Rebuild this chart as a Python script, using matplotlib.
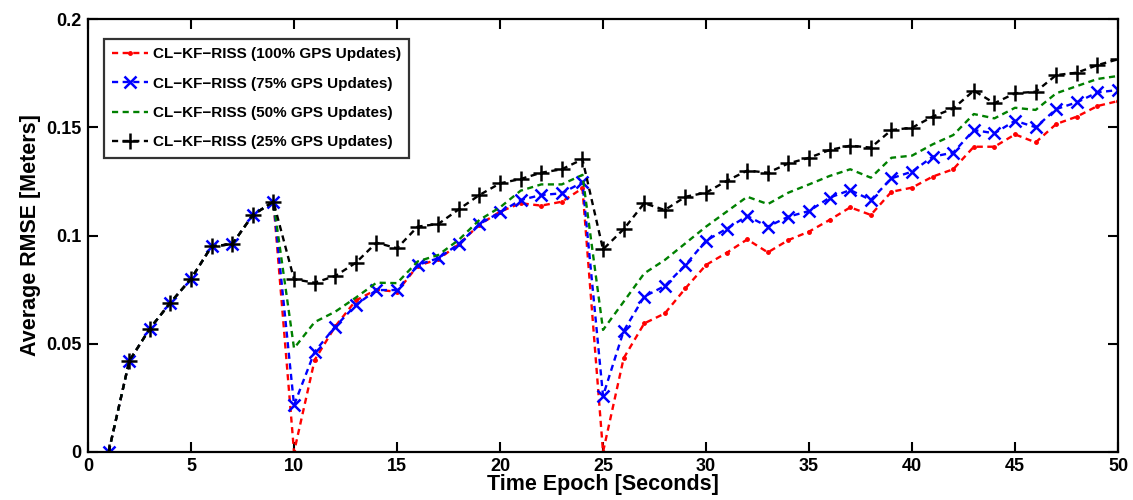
import matplotlib
matplotlib.use('Agg')
import matplotlib.pyplot as plt

plt.rcParams['font.family'] = ['Liberation Sans', 'DejaVu Sans']
plt.rcParams['font.weight'] = 'bold'

epochs = list(range(1, 51))

# первые 9 эпох одинаковы для всех вариантов
common = [0.0, 0.042, 0.057, 0.069, 0.080, 0.095, 0.096, 0.1095, 0.1156]

rmse_100 = common + [
    0.0, 0.0425, 0.058, 0.070, 0.075, 0.074, 0.086, 0.089, 0.096, 0.105,
    0.111, 0.1149, 0.1138, 0.1156, 0.1218,
    0.0, 0.0433, 0.0594, 0.064, 0.0756, 0.0864, 0.092, 0.0982, 0.0922, 0.0979,
    0.1018, 0.1072, 0.113, 0.1095, 0.1202, 0.1221, 0.1272, 0.1306, 0.141, 0.141,
    0.1467, 0.143, 0.1515, 0.1549, 0.1598, 0.1621]

rmse_75 = common + [
    0.0217, 0.0463, 0.0579, 0.0679, 0.0748, 0.0748, 0.0864, 0.0895, 0.0961, 0.1053,
    0.1107, 0.1164, 0.1187, 0.1195, 0.1246,
    0.0259, 0.0559, 0.0718, 0.0767, 0.0864, 0.0976, 0.1031, 0.109, 0.1041, 0.1087,
    0.1113, 0.1175, 0.121, 0.1164, 0.1264, 0.1295, 0.1364, 0.1383, 0.1487, 0.1472,
    0.153, 0.150, 0.1584, 0.1615, 0.1661, 0.1672]

rmse_50 = common + [
    0.0479, 0.060, 0.0648, 0.0713, 0.0782, 0.078, 0.088, 0.091, 0.098, 0.1072,
    0.113, 0.1207, 0.1236, 0.1236, 0.128,
    0.0564, 0.0694, 0.0825, 0.0887, 0.0964, 0.1041, 0.111, 0.1179, 0.1145, 0.1198,
    0.1236, 0.1275, 0.1306, 0.1267, 0.1359, 0.1369, 0.1421, 0.1464, 0.1561, 0.1541,
    0.159, 0.158, 0.1657, 0.169, 0.1723, 0.1737]

rmse_25 = common + [
    0.0798, 0.0782, 0.0813, 0.0874, 0.0967, 0.0941, 0.1041, 0.1053, 0.1121, 0.1187,
    0.1241, 0.1261, 0.129, 0.1306, 0.1352,
    0.0936, 0.1029, 0.1149, 0.1118, 0.1179, 0.1198, 0.1252, 0.130, 0.129, 0.1333,
    0.1359, 0.1395, 0.1415, 0.1406, 0.1487, 0.1498, 0.1549, 0.1587, 0.1669, 0.1611,
    0.1657, 0.1664, 0.1741, 0.1752, 0.1787, 0.1814]

labels = ['CL\u2212KF\u2212RISS (100% GPS Updates)',
          'CL\u2212KF\u2212RISS (75% GPS Updates)',
          'CL\u2212KF\u2212RISS (50% GPS Updates)',
          'CL\u2212KF\u2212RISS (25% GPS Updates)']

LW = 1.7
DASH = (2.6, 1.9)

fig = plt.figure(figsize=(11.33, 5), dpi=100)
ax = fig.add_axes([0.0777, 0.096, 0.9091, 0.866])

ax.plot(epochs, rmse_100, color='red', lw=LW, dashes=DASH, marker='.', ms=5, label=labels[0])
ax.plot(epochs, rmse_75, color='blue', lw=LW, dashes=DASH, marker='x', ms=8, mew=1.8, label=labels[1])
ax.plot(epochs, rmse_50, color='green', lw=LW, dashes=DASH, label=labels[2])
ax.plot(epochs, rmse_25, color='black', lw=LW, dashes=DASH, marker='+', ms=11, mew=1.8, label=labels[3])

ax.set_xlim(0, 50)
ax.set_ylim(0, 0.2)
ax.set_xticks(range(0, 51, 5))
ax.set_yticks([0, 0.05, 0.1, 0.15, 0.2])
ax.set_yticklabels(['0', '0.05', '0.1', '0.15', '0.2'])
ax.tick_params(direction='in', top=True, right=True, length=7, width=1.5,
               labelsize=13, pad=4.5)
for s in ax.spines.values():
    s.set_linewidth(1.6)

ax.set_xlabel('Time Epoch [Seconds]', fontsize=15.5, fontweight='bold', labelpad=-1)
ax.set_ylabel('Average RMSE [Meters]', fontsize=15.5, fontweight='bold', labelpad=4)

leg = ax.legend(loc='upper left', fontsize=11, frameon=True, fancybox=False,
                edgecolor='black', numpoints=1, handlelength=2.3, handletextpad=0.35,
                borderpad=0.55, labelspacing=1.0, borderaxespad=0,
                bbox_to_anchor=(0.0155, 0.954))
leg.get_frame().set_linewidth(1.6)
for t in leg.get_texts():
    t.set_fontweight('bold')

fig.savefig('out.png', dpi=100)
